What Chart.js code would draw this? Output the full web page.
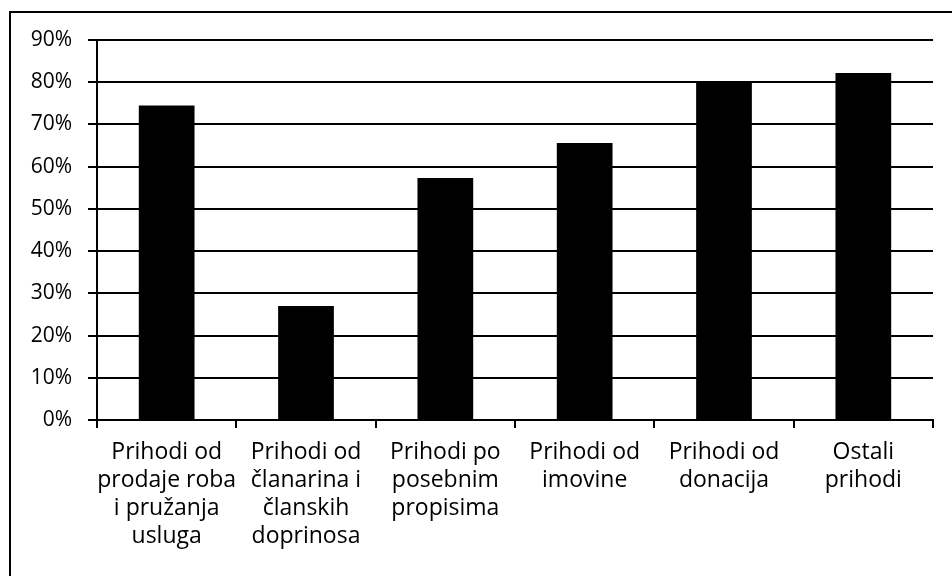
<!DOCTYPE html>
<html>
<head>
<meta charset="utf-8">
<script src="https://cdn.jsdelivr.net/npm/chart.js@4.4.0/dist/chart.umd.min.js"></script>
<style>
    html, body { margin: 0; padding: 0; background: #fff; }
    #wrap { position: relative; width: 952px; height: 576px; }
    #frame {
        position: absolute; left: 9px; top: 11px; right: 0; bottom: 0;
        border-top: 2px solid #000; border-left: 2px solid #000;
        pointer-events: none;
    }
    canvas { position: absolute; left: 0; top: 0; }
</style>
</head>
<body>
<div id="wrap">
    <canvas id="incomeChart" width="952" height="576"></canvas>
    <div id="frame"></div>
</div>
<script>
    const categories = [
        ['Prihodi od', 'prodaje roba', 'i pružanja', 'usluga'],
        ['Prihodi od', 'članarina i', 'članskih', 'doprinosa'],
        ['Prihodi po', 'posebnim', 'propisima'],
        ['Prihodi od', 'imovine'],
        ['Prihodi od', 'donacija'],
        ['Ostali', 'prihodi']
    ];
    const shares = [74.5, 27, 57.3, 65.6, 80, 82.2];
    const yTicks = [0, 10, 20, 30, 40, 50, 60, 70, 80, 90];

    const family = "'Open Sans', sans-serif";

    new Chart(document.getElementById('incomeChart').getContext('2d'), {
        type: 'bar',
        data: {
            labels: categories,
            datasets: [{
                data: shares,
                backgroundColor: '#000',
                borderWidth: 0,
                categoryPercentage: 1,
                barPercentage: 0.4
            }]
        },
        options: {
            responsive: false,
            animation: false,
            layout: {padding: {left: 10, right: 19, top: 40, bottom: 0}},
            plugins: {legend: {display: false}, tooltip: {enabled: false}},
            scales: {
                x: {
                    grid: {display: true, drawOnChartArea: false, color: '#000', lineWidth: 2, tickLength: 8, offset: true},
                    border: {display: true, color: '#000', width: 2},
                    ticks: {color: '#000', font: {family: family, size: 23, lineHeight: 1.22}, maxRotation: 0, autoSkip: false, padding: 10},
                    afterFit: s => { s.height = 156; }
                },
                y: {
                    min: 0,
                    max: yTicks[yTicks.length - 1],
                    afterBuildTicks: s => { s.ticks = yTicks.map(v => ({value: v})); },
                    grid: {color: '#000', lineWidth: 2, tickLength: 9},
                    border: {display: true, color: '#000', width: 2},
                    ticks: {color: '#000', font: {family: family, size: 21}, padding: 16, callback: v => v + '%'},
                    afterFit: s => { s.width = 87; }
                }
            }
        }
    });
</script>
</body>
</html>
